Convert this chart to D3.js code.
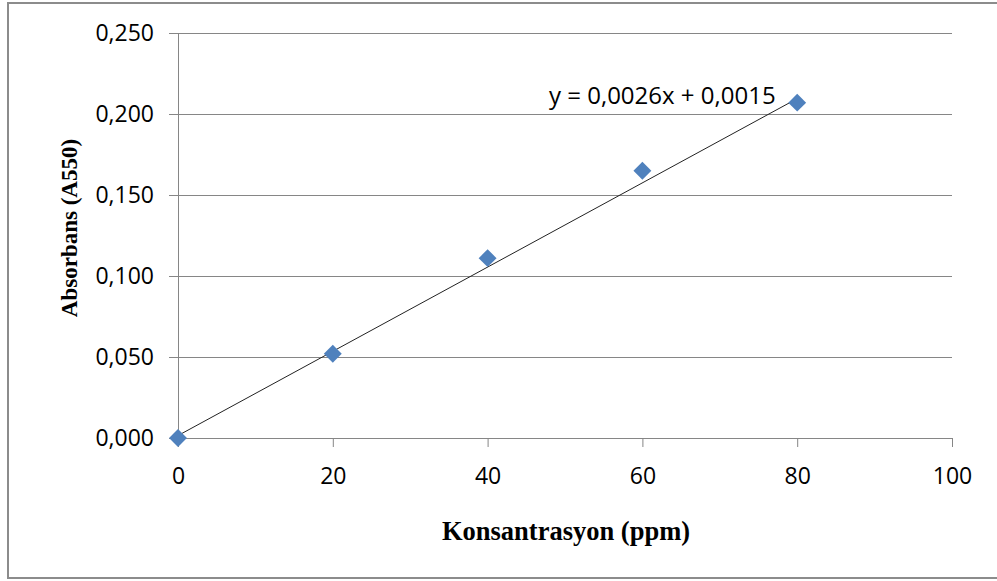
<!DOCTYPE html>
<html>
<head>
<meta charset="utf-8">
<script src="https://cdn.jsdelivr.net/npm/d3@7"></script>
<style>
  body { margin: 0; background: #fff; }
  .tick text { font-family: "Open Sans", sans-serif; font-size: 23px; fill: #000; }
</style>
</head>
<body>
<svg id="chart"></svg>
<script>
// Data
const concentrations = [0, 20, 40, 60, 80];
const absorbances = [0.000, 0.052, 0.111, 0.165, 0.207];
const xTicks = [0, 20, 40, 60, 80, 100];
const yTicks = [0, 0.05, 0.1, 0.15, 0.2, 0.25];
const slope = 0.0026;
const intercept = 0.0015;
const equationLabel = "y = 0,0026x + 0,0015";

const width = 997, height = 581;
const plot = { left: 178, right: 952, top: 33, bottom: 438 };

const svg = d3.select("#chart")
    .attr("width", width)
    .attr("height", height);

// outer chart border
svg.append("rect")
    .attr("x", 8).attr("y", 3)
    .attr("width", 1000).attr("height", 575)
    .attr("fill", "#fff")
    .attr("stroke", "#8c8c8c")
    .attr("stroke-width", 2);

const x = d3.scaleLinear().domain([0, 100]).range([plot.left, plot.right]);
const y = d3.scaleLinear().domain([0, 0.25]).range([plot.bottom, plot.top]);

const fmt = d => d3.format(".3f")(d).replace(".", ",");

// y axis with gridlines
const yAxis = svg.append("g")
    .attr("transform", "translate(" + plot.left + ",0)")
    .call(d3.axisLeft(y).tickValues(yTicks).tickFormat(fmt)
        .tickSizeInner(-(plot.right - plot.left)).tickSizeOuter(0).tickPadding(24));
yAxis.select(".domain").attr("stroke", "#868686");
yAxis.selectAll(".tick line")
    .attr("x1", -9)
    .attr("stroke", "#868686");

// x axis
const xAxis = svg.append("g")
    .attr("transform", "translate(0," + plot.bottom + ")")
    .call(d3.axisBottom(x).tickValues(xTicks).tickFormat(d3.format("d"))
        .tickSizeInner(9).tickSizeOuter(0).tickPadding(21));
xAxis.select(".domain").attr("stroke", "#868686");
xAxis.selectAll(".tick line").attr("stroke", "#868686");

// trend line
svg.append("line")
    .attr("x1", x(0)).attr("y1", y(intercept))
    .attr("x2", x(80)).attr("y2", y(slope * 80 + intercept))
    .attr("stroke", "#222")
    .attr("stroke-width", 1);

// markers
svg.selectAll(".pt")
    .data(concentrations)
    .enter().append("path")
    .attr("class", "pt")
    .attr("d", d3.symbol().type(d3.symbolSquare).size(160))
    .attr("transform", (d, i) => "translate(" + x(d) + "," + y(absorbances[i]) + ") rotate(45)")
    .attr("fill", "#4f81bd");

// trendline equation
svg.append("text")
    .attr("x", 549).attr("y", 104)
    .style("font-family", "Open Sans, sans-serif")
    .style("font-size", "24px")
    .text(equationLabel);

// axis titles
svg.append("text")
    .attr("x", 566).attr("y", 540)
    .attr("text-anchor", "middle")
    .style("font-family", "Liberation Serif, serif")
    .style("font-weight", "bold")
    .style("font-size", "26.5px")
    .text("Konsantrasyon (ppm)");

svg.append("text")
    .attr("transform", "translate(77,228) rotate(-90)")
    .attr("text-anchor", "middle")
    .style("font-family", "Liberation Serif, serif")
    .style("font-weight", "bold")
    .style("font-size", "23px")
    .text("Absorbans (A550)");
</script>
</body>
</html>
